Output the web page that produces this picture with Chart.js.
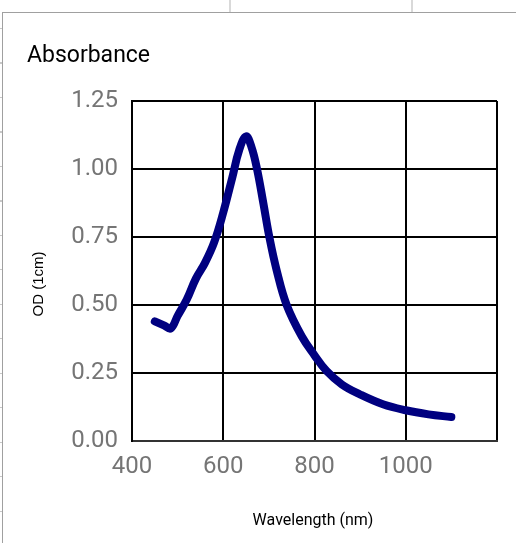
<!DOCTYPE html>
<html>
<head>
<meta charset="utf-8">
<script src="https://cdn.jsdelivr.net/npm/chart.js@4"></script>
<style>
html, body { margin: 0; padding: 0; background: #fff; }
#sheet { position: relative; width: 516px; height: 543px; overflow: hidden; background: #fff; }
.col { position: absolute; top: 0; height: 12px; width: 2px; background: #d9d9d9; }
#rows { position: absolute; left: 0; top: 28px; width: 2px; height: 515px;
  background: repeating-linear-gradient(to bottom, #c8c8c8 0, #c8c8c8 1px, transparent 1px, transparent 34.5px); }
#panel { position: absolute; left: 2px; top: 12px; width: 700px; height: 700px;
  border-left: 1px solid #a0a0a0; border-top: 1px solid #a0a0a0; background: #fff; }
#wrap { position: absolute; left: 0; top: 0; width: 516px; height: 543px; }
</style>
</head>
<body>
<div id="sheet">
  <div class="col" style="left:229px"></div>
  <div class="col" style="left:411px"></div>
  <div id="rows"></div>
  <div id="panel"></div>
  <div id="wrap"><canvas id="myChart"></canvas></div>
</div>
<script>
const chartTitle = 'Absorbance';
const xTitle = 'Wavelength (nm)';
const yTitle = 'OD (1cm)';

const wavelength = [450, 470, 485, 500, 520, 540, 560, 580, 600, 620, 635, 650, 662, 674, 688, 701, 717, 739, 772, 800, 826, 860, 900, 950, 1000, 1050, 1100];
const od = [0.44, 0.425, 0.414, 0.46, 0.52, 0.597, 0.655, 0.73, 0.84, 0.97, 1.07, 1.12, 1.08, 1.00, 0.873, 0.75, 0.628, 0.50, 0.385, 0.315, 0.258, 0.208, 0.171, 0.135, 0.113, 0.098, 0.088];

const xTickLabels = ['400', '600', '800', '1000', ''];
const yTickLabels = ['0.00', '0.25', '0.50', '0.75', '1.00', '1.25'];

const points = wavelength.map((w, i) => ({ x: w, y: od[i] }));

const textPlugin = {
  id: 'texts',
  afterDraw(chart) {
    const c = chart.ctx;
    c.save();
    c.fillStyle = '#000';
    c.textBaseline = 'alphabetic';
    c.textAlign = 'left';
    c.font = '23px Roboto';
    c.fillText(chartTitle, 27, 62);
    c.textAlign = 'center';
    c.font = '16px Roboto';
    c.fillText(xTitle, 313, 525);
    c.translate(43, 284);
    c.rotate(-Math.PI / 2);
    c.font = '15px "Liberation Sans"';
    c.fillText(yTitle, 0, 0);
    c.restore();
  }
};

const data = {
  datasets: [{
    label: 'OD',
    data: points,
    borderColor: '#000080',
    backgroundColor: '#000080',
    borderWidth: 8,
    borderCapStyle: 'round',
    borderJoinStyle: 'round',
    pointRadius: 0,
    fill: false,
    tension: 0.4
  }]
};

const tickFont = { family: 'Roboto', size: 24 };

const config = {
  type: 'line',
  data: data,
  options: {
    responsive: true,
    maintainAspectRatio: false,
    animation: false,
    layout: { padding: { top: 101, right: 19, bottom: 0, left: 0 } },
    plugins: {
      legend: { display: false },
      title: { display: false },
      tooltip: { enabled: false }
    },
    scales: {
      x: {
        type: 'linear',
        min: 400,
        max: 1200,
        afterFit: s => { s.height = 102; },
        ticks: {
          stepSize: 200,
          color: '#757575',
          font: tickFont,
          padding: 12,
          maxRotation: 0,
          callback: (v, i) => xTickLabels[i]
        },
        grid: { color: '#000', lineWidth: 2, drawTicks: false },
        border: { color: '#333', width: 2 }
      },
      y: {
        min: 0,
        max: 1.25,
        afterFit: s => { s.width = 132; },
        ticks: {
          stepSize: 0.25,
          color: '#757575',
          font: tickFont,
          padding: 14,
          callback: (v, i) => yTickLabels[i]
        },
        grid: { color: '#000', lineWidth: 2, drawTicks: false },
        border: { color: '#000', width: 2 }
      }
    }
  },
  plugins: [textPlugin]
};

new Chart(document.getElementById('myChart').getContext('2d'), config);
</script>
</body>
</html>
